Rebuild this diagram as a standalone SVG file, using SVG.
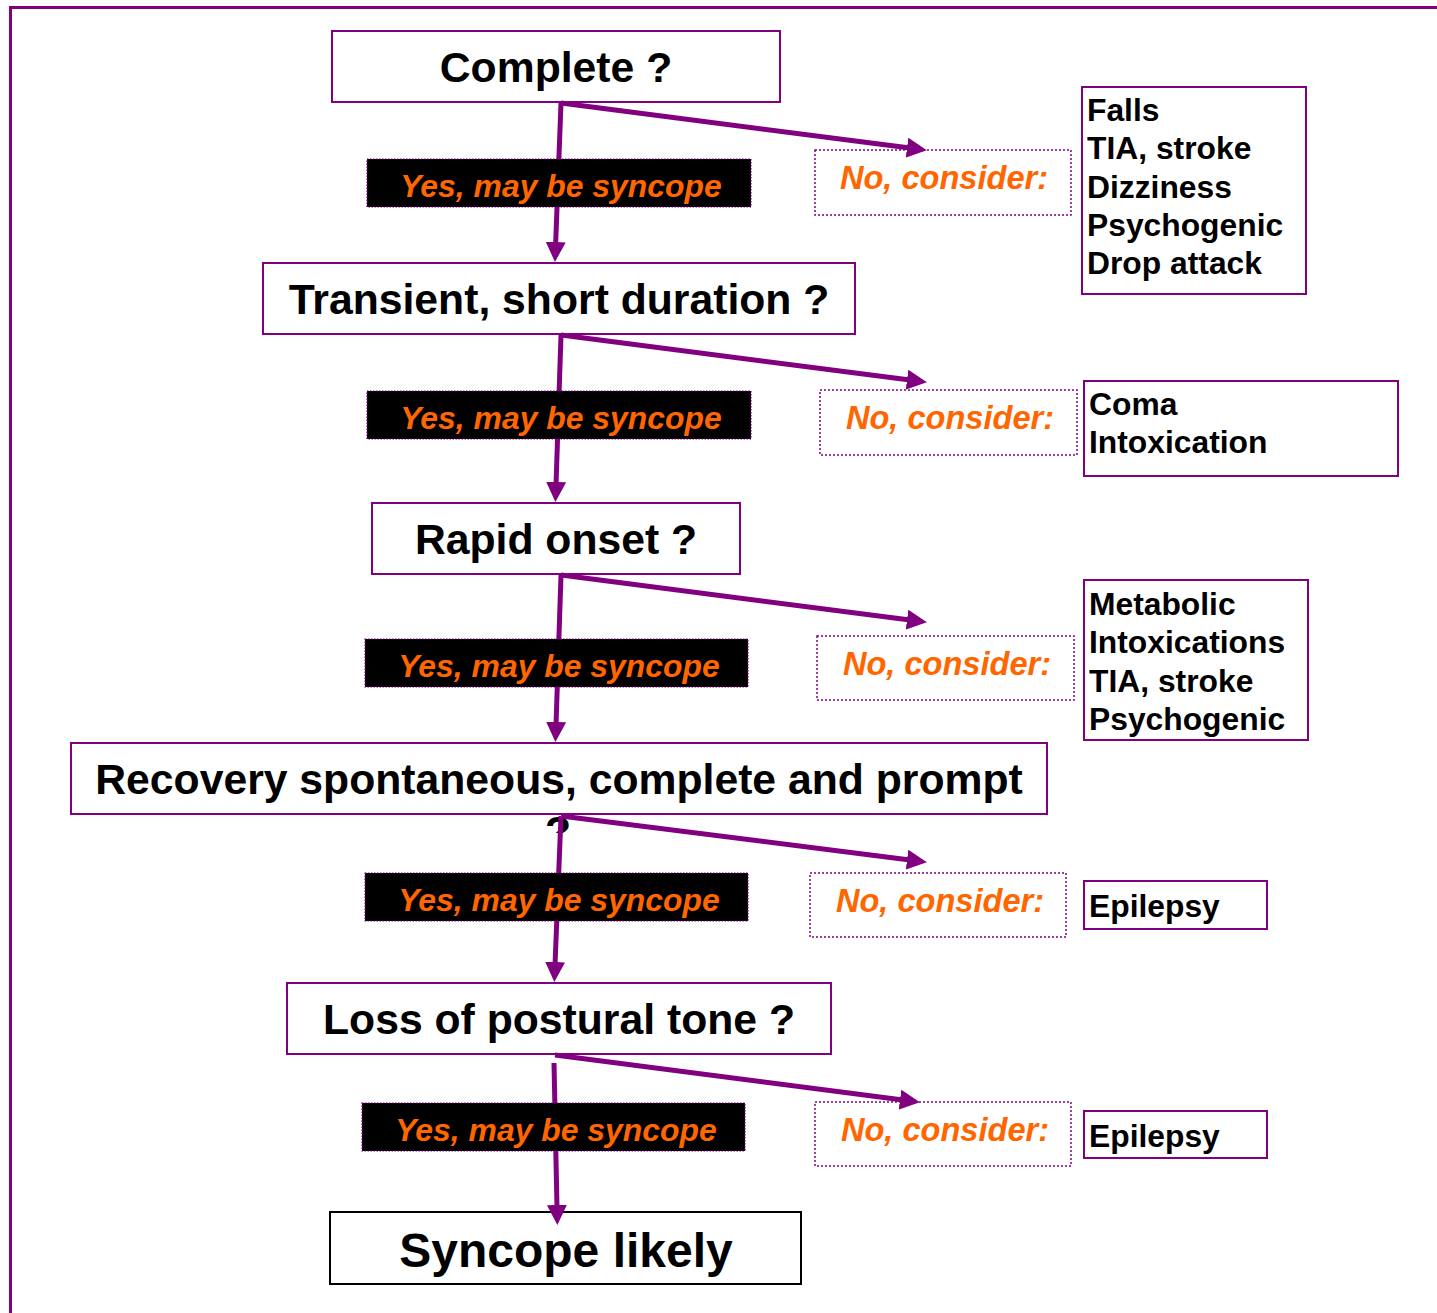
<svg xmlns="http://www.w3.org/2000/svg" width="1437" height="1313" viewBox="0 0 1437 1313">
<style>
.frame{fill:none;stroke:#800080;stroke-width:3}
.node{fill:#fff;stroke:#800080;stroke-width:2}
.final{fill:#fff;stroke:#000;stroke-width:2}
.q{font-family:"Liberation Sans",Arial,sans-serif;font-weight:bold;font-size:42.7px;fill:#000;text-anchor:middle}
.yes{fill:#000;stroke:#800080;stroke-width:1.2;stroke-dasharray:1.5,1.5}
.no{fill:#fff;stroke:#800080;stroke-width:1.5;stroke-dasharray:2,2}
.lbl{font-family:"Liberation Sans",Arial,sans-serif;font-weight:bold;font-style:italic;fill:#FF6600;text-anchor:middle}
.list{font-family:"Liberation Sans",Arial,sans-serif;font-weight:bold;font-size:31.8px;fill:#000}
.conn{stroke:#800080;stroke-width:5;fill:none;marker-end:url(#ah)}
</style>
<defs>
<marker id="ah" markerUnits="userSpaceOnUse" markerWidth="20" markerHeight="20" viewBox="0 0 20 20" refX="3" refY="10" orient="auto">
<path d="M0,0 L20,10 L0,20 z" fill="#800080"/>
</marker>
<clipPath id="qclip"><rect x="530" y="815" width="60" height="18"/></clipPath>
</defs>
<rect width="1437" height="1313" fill="#fff"/>
<path class="frame" d="M10.5,1313 V7.5 H1437"/>

<g id="n-complete"><rect class="node" x="332" y="31" width="448" height="71"/><text class="q" x="556" y="82">Complete ?</text></g>
<g id="n-transient"><rect class="node" x="263" y="263" width="592" height="71"/><text class="q" x="559" y="314">Transient, short duration ?</text></g>
<g id="n-rapid"><rect class="node" x="372" y="503" width="368" height="71"/><text class="q" x="556" y="554">Rapid onset ?</text></g>
<g id="n-recovery"><rect class="node" x="71" y="743" width="976" height="71"/><text class="q" x="559" y="794">Recovery spontaneous, complete and prompt</text><text class="q" x="558" y="846" clip-path="url(#qclip)">?</text></g>
<g id="n-loss"><rect class="node" x="287" y="983" width="544" height="71"/><text class="q" x="559" y="1034">Loss of postural tone ?</text></g>
<g id="n-syncope"><rect class="final" x="330" y="1212" width="471" height="72"/><text class="q" x="566" y="1267" style="font-size:48px">Syncope likely</text></g>

<g id="no1"><rect class="no" x="815" y="150" width="256" height="65"/><text class="lbl" x="944" y="189" font-size="32.6">No, consider:</text></g>
<g id="no2"><rect class="no" x="820" y="390" width="257" height="65"/><text class="lbl" x="950" y="429" font-size="32.6">No, consider:</text></g>
<g id="no3"><rect class="no" x="817" y="636" width="257" height="64"/><text class="lbl" x="947" y="675" font-size="32.6">No, consider:</text></g>
<g id="no4"><rect class="no" x="810" y="873" width="256" height="64"/><text class="lbl" x="940" y="912" font-size="32.6">No, consider:</text></g>
<g id="no5"><rect class="no" x="815" y="1102" width="256" height="64"/><text class="lbl" x="945" y="1141" font-size="32.6">No, consider:</text></g>

<g id="connectors">
<line class="conn" x1="561" y1="103" x2="555.6" y2="245"/>
<line class="conn" x1="561" y1="103" x2="910" y2="148"/>
<line class="conn" x1="561" y1="335" x2="556" y2="485"/>
<line class="conn" x1="561" y1="335" x2="910" y2="380"/>
<line class="conn" x1="561" y1="575" x2="556" y2="725"/>
<line class="conn" x1="561" y1="575" x2="910" y2="620"/>
<line class="conn" x1="561" y1="816" x2="555" y2="965"/>
<line class="conn" x1="561" y1="816" x2="910" y2="860"/>
<line class="conn" x1="554" y1="1063" x2="557" y2="1208"/>
<line class="conn" x1="555" y1="1055" x2="903" y2="1100"/>
</g>

<g id="yes1"><rect class="yes" x="367" y="159" width="384" height="48"/><text class="lbl" x="561" y="197" font-size="31.9">Yes, may be syncope</text></g>
<g id="yes2"><rect class="yes" x="367" y="391" width="384" height="48"/><text class="lbl" x="561" y="429" font-size="31.9">Yes, may be syncope</text></g>
<g id="yes3"><rect class="yes" x="365" y="639" width="383" height="48"/><text class="lbl" x="559" y="677" font-size="31.9">Yes, may be syncope</text></g>
<g id="yes4"><rect class="yes" x="365" y="873" width="383" height="48"/><text class="lbl" x="559" y="911" font-size="31.9">Yes, may be syncope</text></g>
<g id="yes5"><rect class="yes" x="362" y="1103" width="383" height="48"/><text class="lbl" x="556" y="1141" font-size="31.9">Yes, may be syncope</text></g>

<g id="c1"><rect class="node" x="1082" y="87" width="224" height="207"/>
<text class="list" x="1087" y="121">Falls</text>
<text class="list" x="1087" y="159">TIA, stroke</text>
<text class="list" x="1087" y="198">Dizziness</text>
<text class="list" x="1087" y="236">Psychogenic</text>
<text class="list" x="1087" y="274">Drop attack</text></g>
<g id="c2"><rect class="node" x="1084" y="381" width="314" height="95"/>
<text class="list" x="1089" y="415">Coma</text>
<text class="list" x="1089" y="453">Intoxication</text></g>
<g id="c3"><rect class="node" x="1084" y="580" width="224" height="160"/>
<text class="list" x="1089" y="615">Metabolic</text>
<text class="list" x="1089" y="653">Intoxications</text>
<text class="list" x="1089" y="692">TIA, stroke</text>
<text class="list" x="1089" y="730">Psychogenic</text></g>
<g id="c4"><rect class="node" x="1084" y="881" width="183" height="48"/>
<text class="list" x="1089" y="917">Epilepsy</text></g>
<g id="c5"><rect class="node" x="1084" y="1111" width="183" height="47"/>
<text class="list" x="1089" y="1147">Epilepsy</text></g>
</svg>
